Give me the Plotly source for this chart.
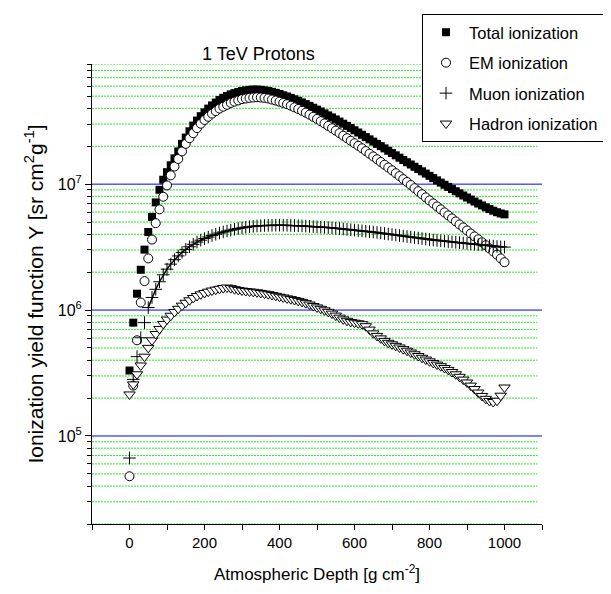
import plotly.graph_objects as go

# Atmospheric depth grid [g cm^-2]
depth = [0, 10, 20, 30, 40, 50, 60, 70, 80, 90,
         100, 110, 120, 130, 140, 150, 160, 170, 180, 190,
         200, 210, 220, 230, 240, 250, 260, 270, 280, 290,
         300, 310, 320, 330, 340, 350, 360, 370, 380, 390,
         400, 410, 420, 430, 440, 450, 460, 470, 480, 490,
         500, 510, 520, 530, 540, 550, 560, 570, 580, 590,
         600, 610, 620, 630, 640, 650, 660, 670, 680, 690,
         700, 710, 720, 730, 740, 750, 760, 770, 780, 790,
         800, 810, 820, 830, 840, 850, 860, 870, 880, 890,
         900, 910, 920, 930, 940, 950, 960, 970, 980, 990, 1000]

# log10 of yield Y [sr cm^2 g^-1]
total_log10 = [5.52, 5.90, 6.13, 6.32, 6.48, 6.62, 6.74, 6.855, 6.955, 7.035,
               7.095, 7.15, 7.205, 7.26, 7.32, 7.37, 7.42, 7.465, 7.505, 7.54,
               7.57, 7.60, 7.625, 7.648, 7.668, 7.686, 7.70, 7.713, 7.723, 7.732,
               7.74, 7.745, 7.749, 7.751, 7.751, 7.749, 7.745, 7.74, 7.733, 7.725,
               7.716, 7.706, 7.696, 7.685, 7.674, 7.662, 7.649, 7.636, 7.622, 7.607,
               7.592, 7.577, 7.562, 7.546, 7.53, 7.514, 7.497, 7.48, 7.463, 7.446,
               7.428, 7.41, 7.392, 7.374, 7.356, 7.338, 7.32, 7.302, 7.284, 7.265,
               7.247, 7.229, 7.21, 7.192, 7.174, 7.156, 7.138, 7.12, 7.102, 7.084,
               7.066, 7.048, 7.03, 7.012, 6.995, 6.978, 6.961, 6.944, 6.927, 6.91,
               6.894, 6.878, 6.862, 6.846, 6.831, 6.816, 6.802, 6.789, 6.777, 6.767, 6.76]

em_log10 = [4.68, 5.40, 5.76, 6.06, 6.23, 6.41, 6.56, 6.69, 6.80, 6.90,
            6.99, 7.07, 7.14, 7.20, 7.26, 7.32, 7.365, 7.405, 7.445, 7.48,
            7.51, 7.535, 7.56, 7.58, 7.60, 7.615, 7.63, 7.645, 7.655, 7.665,
            7.675, 7.68, 7.685, 7.688, 7.69, 7.688, 7.685, 7.68, 7.672, 7.664,
            7.655, 7.645, 7.635, 7.623, 7.61, 7.597, 7.583, 7.568, 7.552, 7.535,
            7.518, 7.50, 7.482, 7.463, 7.444, 7.425, 7.405, 7.385, 7.365, 7.345,
            7.325, 7.305, 7.285, 7.263, 7.242, 7.22, 7.198, 7.176, 7.154, 7.132,
            7.11, 7.087, 7.064, 7.04, 7.017, 6.993, 6.968, 6.944, 6.92, 6.895,
            6.871, 6.847, 6.823, 6.80, 6.776, 6.752, 6.728, 6.704, 6.68, 6.656,
            6.632, 6.608, 6.585, 6.562, 6.538, 6.515, 6.49, 6.465, 6.44, 6.41, 6.38]

muon_log10 = [4.825, 5.45, 5.63, 5.78, 5.90, 6.02, 6.10, 6.165, 6.225, 6.28,
              6.325, 6.365, 6.40, 6.43, 6.458, 6.482, 6.503, 6.522, 6.54, 6.555,
              6.568, 6.58, 6.592, 6.602, 6.612, 6.62, 6.628, 6.635, 6.642, 6.648,
              6.653, 6.658, 6.662, 6.665, 6.668, 6.67, 6.672, 6.673, 6.674, 6.674,
              6.674, 6.674, 6.673, 6.672, 6.671, 6.67, 6.669, 6.667, 6.665, 6.663,
              6.661, 6.659, 6.657, 6.655, 6.652, 6.65, 6.647, 6.644, 6.641, 6.638,
              6.635, 6.632, 6.629, 6.626, 6.623, 6.62, 6.616, 6.612, 6.608, 6.604,
              6.60, 6.596, 6.592, 6.588, 6.584, 6.58, 6.576, 6.572, 6.568, 6.564,
              6.56, 6.556, 6.553, 6.55, 6.547, 6.544, 6.541, 6.538, 6.535, 6.532,
              6.529, 6.526, 6.523, 6.52, 6.517, 6.514, 6.511, 6.508, 6.505, 6.502, 6.50]

hadron_log10 = [5.33, 5.41, 5.49, 5.56, 5.63, 5.70, 5.76, 5.81, 5.85, 5.89,
                5.925, 5.955, 5.985, 6.01, 6.035, 6.058, 6.078, 6.096, 6.112, 6.125,
                6.136, 6.146, 6.155, 6.162, 6.169, 6.175, 6.179, 6.174, 6.166, 6.16,
                6.155, 6.151, 6.148, 6.145, 6.141, 6.136, 6.131, 6.126, 6.12, 6.113,
                6.106, 6.10, 6.093, 6.087, 6.08, 6.073, 6.065, 6.055, 6.044, 6.032,
                6.021, 6.01, 5.998, 5.986, 5.972, 5.956, 5.94, 5.926, 5.915, 5.906,
                5.90, 5.895, 5.888, 5.872, 5.845, 5.815, 5.795, 5.775, 5.755, 5.74,
                5.728, 5.716, 5.703, 5.69, 5.677, 5.663, 5.649, 5.635, 5.621, 5.607,
                5.593, 5.58, 5.567, 5.554, 5.54, 5.525, 5.508, 5.49, 5.47, 5.448,
                5.425, 5.40, 5.373, 5.345, 5.318, 5.295, 5.278, 5.27, 5.28, 5.32, 5.385]

x_tick_values = [0, 200, 400, 600, 800, 1000]
x_tick_labels = ["0", "200", "400", "600", "800", "1000"]
y_major_values = [1e5, 1e6, 1e7]
y_major_labels = ["10<sup>5</sup>", "10<sup>6</sup>", "10<sup>7</sup>"]
y_minor_values = [2e4, 3e4, 4e4, 5e4, 6e4, 7e4, 8e4, 9e4,
                  2e5, 3e5, 4e5, 5e5, 6e5, 7e5, 8e5, 9e5,
                  2e6, 3e6, 4e6, 5e6, 6e6, 7e6, 8e6, 9e6,
                  2e7, 3e7, 4e7, 5e7, 6e7, 7e7, 8e7, 9e7]

def lin(vals):
    return [10 ** v for v in vals]

FONT = "Liberation Sans, Arial, sans-serif"

# plot area in pixels
L, R, T, B = 84, 534, 56, 516
PW, PH = R - L, B - T

def px_x(p):
    return (p - L) / PW

def px_y(p):
    return (B - p) / PH

fig = go.Figure()

# grid lines (green dotted at minor decades, blue at decades)
for v in y_minor_values:
    fig.add_shape(type="line", xref="paper", x0=0, x1=0.99, yref="y", y0=v, y1=v,
                  layer="below", line=dict(color="#22ee22", width=1, dash="2px,1px"))
for v in y_major_values:
    fig.add_shape(type="line", xref="paper", x0=0, x1=1, yref="y", y0=v, y1=v,
                  layer="below", line=dict(color="#0000ff", width=1))

fig.add_trace(go.Scatter(
    x=depth, y=lin(total_log10), mode="markers", name="Total ionization",
    legendgroup="t",
    marker=dict(symbol="square", size=8, color="black", line=dict(width=0))))

fig.add_trace(go.Scatter(
    x=depth, y=lin(em_log10), mode="markers", name="EM ionization",
    legendgroup="e",
    marker=dict(symbol="circle", size=9, color="white",
                line=dict(width=1, color="black"))))

fig.add_trace(go.Scatter(
    x=depth[5:], y=lin(muon_log10[5:]), mode="lines", showlegend=False,
    line=dict(color="black", width=1.5)))

fig.add_trace(go.Scatter(
    x=depth, y=lin(muon_log10), mode="markers", name="Muon ionization",
    legendgroup="m",
    marker=dict(symbol="cross-thin", size=9, color="black",
                line=dict(width=1, color="black"))))

fig.add_trace(go.Scatter(
    x=depth, y=lin(hadron_log10), mode="markers", name="Hadron ionization",
    legendgroup="h",
    marker=dict(symbol="triangle-down", size=10, color="white",
                line=dict(width=1, color="black"))))

fig.add_annotation(text="1 TeV Protons", x=px_x(250), y=px_y(46),
                   xref="paper", yref="paper", xanchor="center", yanchor="middle",
                   showarrow=False, font=dict(family=FONT, size=18, color="black"))

fig.update_layout(
    width=611, height=594,
    margin=dict(l=L, r=611 - R, t=T, b=594 - B, autoexpand=False),
    paper_bgcolor="white", plot_bgcolor="white",
    font=dict(family=FONT, size=16, color="black"),
    showlegend=True,
    legend=dict(x=px_x(414), y=px_y(6), xanchor="left", yanchor="top",
                bordercolor="black", borderwidth=1, bgcolor="white",
                font=dict(family=FONT, size=16.5, color="black"),
                tracegroupgap=6, itemwidth=36),
    xaxis=dict(
        range=[-100, 1100], tickmode="array", tickvals=x_tick_values,
        ticktext=x_tick_labels,
        ticks="outside", ticklen=5, tickcolor="black", tickwidth=1,
        showline=True, linecolor="black", linewidth=1, mirror=False,
        showgrid=False, zeroline=False,
        minor=dict(ticks="outside", ticklen=5, dtick=100, tick0=-100,
                   tickcolor="black", showgrid=False),
        title=dict(text="Atmospheric Depth [g cm<sup>-2</sup>]",
                   font=dict(family=FONT, size=17), standoff=18),
        tickfont=dict(family=FONT, size=15),
    ),
    yaxis=dict(
        type="log", range=[4.30103, 7.95424],
        tickmode="array", tickvals=y_major_values, ticktext=y_major_labels,
        ticks="outside", ticklen=6, tickcolor="black", tickwidth=1,
        showline=True, linecolor="black", linewidth=1,
        showgrid=False, zeroline=False,
        minor=dict(ticks="outside", ticklen=4, tickvals=y_minor_values,
                   tickcolor="black", showgrid=False),
        title=dict(text="Ionization yield function Y [sr cm<sup>2</sup>g<sup>-1</sup>]",
                   font=dict(family=FONT, size=21), standoff=8),
        tickfont=dict(family=FONT, size=16),
    ),
)

fig.write_html("out.html")
